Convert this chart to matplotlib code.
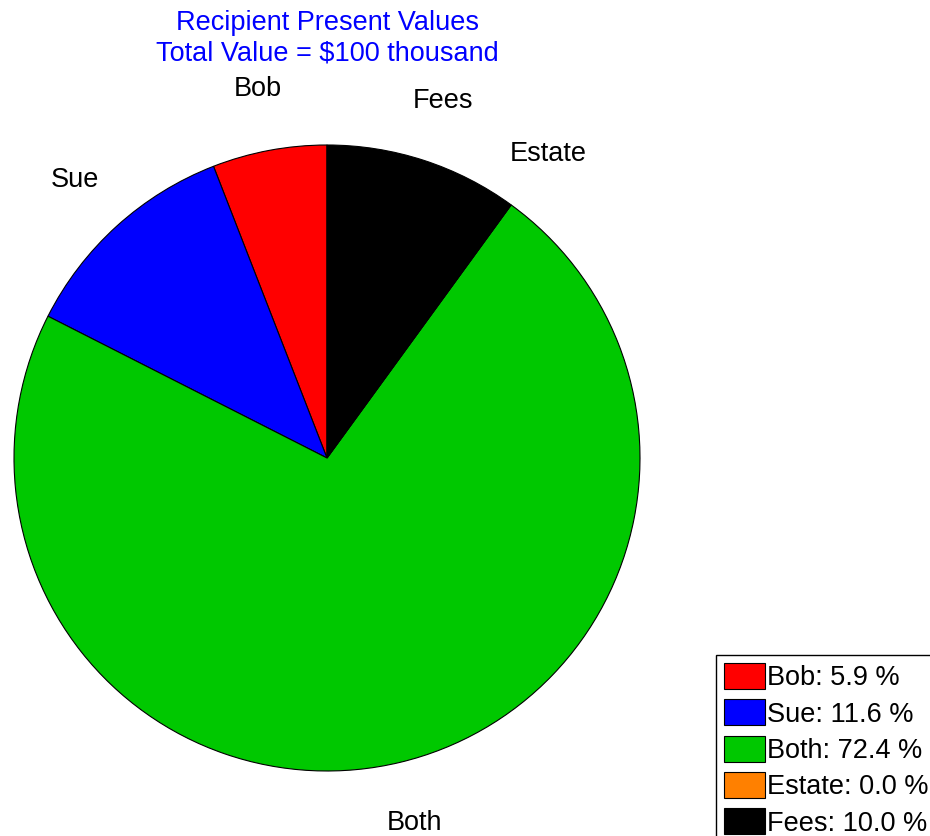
import matplotlib.pyplot as plt

plt.rcParams['font.family'] = ['Liberation Sans', 'DejaVu Sans']

names = ["Bob", "Sue", "Both", "Estate", "Fees"]
shares = [5.9, 11.6, 72.4, 0.0, 10.0]
colors = ["#ff0000", "#0000ff", "#00c800", "#ff8000", "#000000"]

fig = plt.figure(figsize=(9.3, 8.36), dpi=100)
ax = fig.add_axes([14/930, 65/836, 626/930, 626/836])

wedges, texts = ax.pie(shares, labels=names, colors=colors, startangle=90,
                       counterclock=True, radius=1.0, labeldistance=1.2,
                       wedgeprops=dict(edgecolor="black", linewidth=0.8),
                       textprops=dict(fontsize=19.5, ha="center", va="center"))
ax.set_xlim(-1, 1)
ax.set_ylim(-1, 1)
ax.set_aspect("equal")
ax.axis("off")

fig.text(327/930, 1 - 38/836, "Recipient Present Values\nTotal Value = $100 thousand",
         ha="center", va="center", color="blue", fontsize=19.5, linespacing=1.25)

leg_labels = ["%s: %.1f %%" % (n, s) for n, s in zip(names, shares)]
leg = fig.legend(wedges, leg_labels, loc="upper left",
                 bbox_to_anchor=(716/930, 1 - 655/836), fontsize=19.5,
                 fancybox=False, edgecolor="black", framealpha=1,
                 handlelength=1.5, handleheight=1.1, handletextpad=0.1,
                 labelspacing=0.3, borderpad=0.3, borderaxespad=0)
leg.get_frame().set_linewidth(1.0)

fig.savefig("out.png", dpi=100)
